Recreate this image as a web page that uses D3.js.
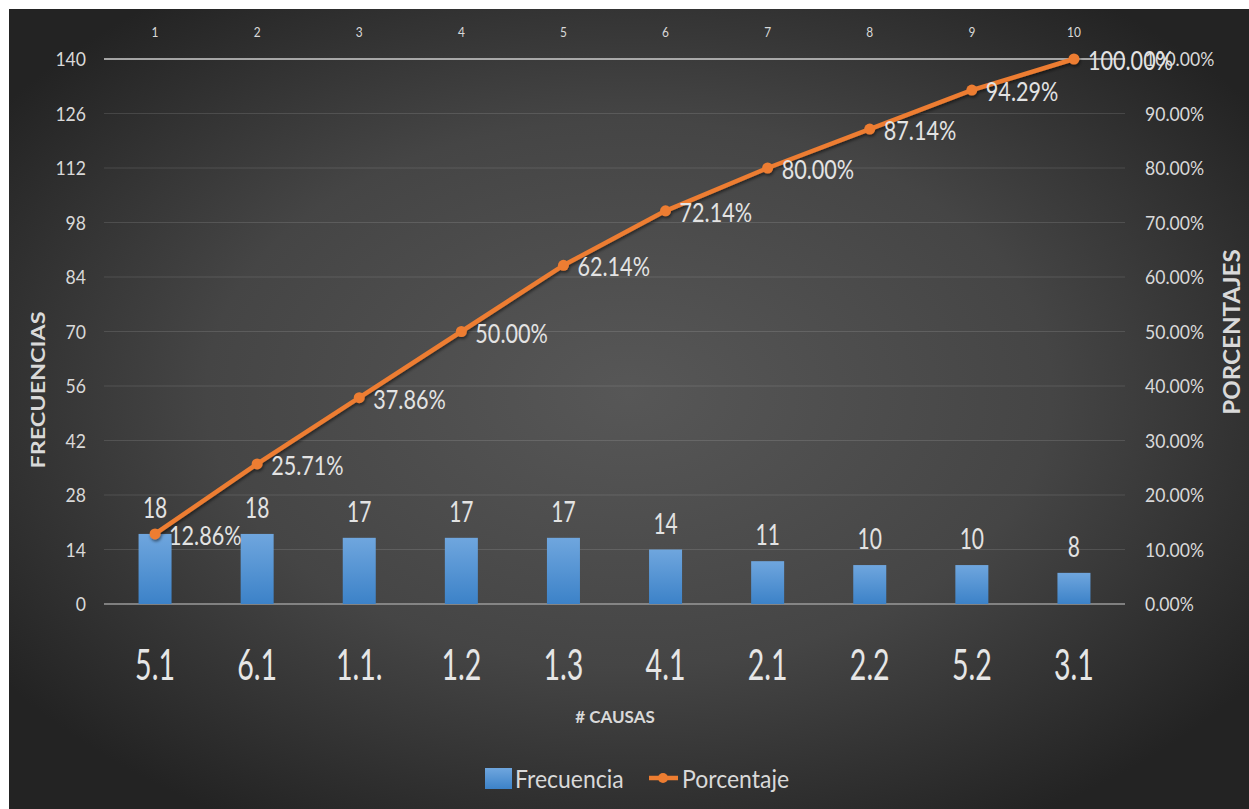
<!DOCTYPE html>
<html lang="es">
<head>
<meta charset="UTF-8">
<title>Pareto causas</title>
<script src="https://cdnjs.cloudflare.com/ajax/libs/d3/7.8.5/d3.min.js"></script>
<style>
  body { margin: 0; background: #fff; }
  text { font-family: Lato, "Open Sans", sans-serif; fill: #d9d9d9; }
</style>
</head>
<body>
<div id="chart"></div>
<script>
    // data
    var causas = ["5.1", "6.1", "1.1.", "1.2", "1.3", "4.1", "2.1", "2.2", "5.2", "3.1"];
    var frecuencia = [18, 18, 17, 17, 17, 14, 11, 10, 10, 8];
    var porcentaje = [12.86, 25.71, 37.86, 50.00, 62.14, 72.14, 80.00, 87.14, 94.29, 100.00];
    var topLabels = ["1", "2", "3", "4", "5", "6", "7", "8", "9", "10"];
    var leftTicks = [0, 14, 28, 42, 56, 70, 84, 98, 112, 126, 140];
    var rightTicks = [0, 0.1, 0.2, 0.3, 0.4, 0.5, 0.6, 0.7, 0.8, 0.9, 1.0];

    var width = 1249, height = 809;
    var orange = "#ed7d31";

    var svg = d3.select("#chart").append("svg")
        .attr("width", width)
        .attr("height", height);

    var defs = svg.append("defs");
    var bg = defs.append("radialGradient").attr("id", "bg")
        .attr("cx", "50%").attr("cy", "48%").attr("r", "62%");
    bg.append("stop").attr("offset", "0%").attr("stop-color", "#575757");
    bg.append("stop").attr("offset", "55%").attr("stop-color", "#454545");
    bg.append("stop").attr("offset", "100%").attr("stop-color", "#232323");

    var barGrad = defs.append("linearGradient").attr("id", "bar")
        .attr("x1", 0).attr("y1", 0).attr("x2", 0).attr("y2", 1);
    barGrad.append("stop").attr("offset", "0%").attr("stop-color", "#6fa6de");
    barGrad.append("stop").attr("offset", "100%").attr("stop-color", "#3c82c8");

    var shadow = defs.append("filter").attr("id", "shadow")
        .attr("x", "-10%").attr("y", "-10%").attr("width", "130%").attr("height", "130%");
    shadow.append("feDropShadow").attr("dx", 1).attr("dy", 2).attr("stdDeviation", 1.5)
        .attr("flood-color", "#000").attr("flood-opacity", 0.5);

    svg.append("rect")
        .attr("x", 9).attr("y", 9)
        .attr("width", width - 9).attr("height", height - 9)
        .attr("fill", "url(#bg)");

    var x = d3.scaleBand().domain(causas).range([104, 1125]);
    var yL = d3.scaleLinear().domain([0, 140]).range([604, 59]);
    var yR = d3.scaleLinear().domain([0, 1]).range([604, 59]);

    // small helper: text squeezed horizontally like the picture
    function txt(x0, y0, s, size, sx, anchor, weight) {
        return svg.append("text")
            .attr("transform", "translate(" + x0 + "," + y0 + ") scale(" + sx + ",1)")
            .attr("text-anchor", anchor || "middle")
            .style("font-size", size + "px")
            .style("font-weight", weight || "normal")
            .text(s);
    }

    // gridlines
    svg.append("g").selectAll("line")
        .data(leftTicks)
        .join("line")
        .attr("x1", 104).attr("x2", 1125)
        .attr("y1", function(d) { return yL(d); })
        .attr("y2", function(d) { return yL(d); })
        .attr("stroke", function(d) {
            if (d === 140) return "#cfcfcf";
            if (d === 0) return "#9a9a9a";
            return "rgba(255,255,255,0.12)";
        })
        .attr("stroke-width", function(d) { return (d === 140 || d === 0) ? 1.5 : 1; });

    // left axis labels
    leftTicks.forEach(function(d) {
        txt(86, yL(d) + 7, d, 20, 0.88, "end");
    });

    // right axis labels
    rightTicks.forEach(function(d) {
        txt(1145, yR(d) + 7, d3.format(".2%")(d), 20, 0.88, "start");
    });

    // top secondary category axis
    topLabels.forEach(function(d, i) {
        txt(x(causas[i]) + x.bandwidth() / 2, 37, d, 14, 0.85);
    });

    // bars
    var barW = 33;
    svg.append("g").selectAll("rect")
        .data(frecuencia)
        .join("rect")
        .attr("x", function(d, i) { return x(causas[i]) + x.bandwidth() / 2 - barW / 2; })
        .attr("y", function(d) { return yL(d); })
        .attr("width", barW)
        .attr("height", function(d) { return yL(0) - yL(d); })
        .attr("fill", "url(#bar)");

    frecuencia.forEach(function(d, i) {
        txt(x(causas[i]) + x.bandwidth() / 2, yL(d) - 16, d, 28, 0.75).style("fill", "#e3e3e3");
    });

    // category labels
    causas.forEach(function(d) {
        txt(x(d) + x.bandwidth() / 2, 680, d, 42, 0.68).style("fill", "#e6e6e6");
    });

    // cumulative line
    var line = d3.line()
        .x(function(d, i) { return x(causas[i]) + x.bandwidth() / 2; })
        .y(function(d) { return yR(d / 100); });

    var lineG = svg.append("g").attr("filter", "url(#shadow)");
    lineG.append("path")
        .datum(porcentaje)
        .attr("d", line)
        .attr("fill", "none")
        .attr("stroke", orange)
        .attr("stroke-width", 4.5)
        .attr("stroke-linejoin", "round");
    lineG.selectAll("circle")
        .data(porcentaje)
        .join("circle")
        .attr("cx", function(d, i) { return x(causas[i]) + x.bandwidth() / 2; })
        .attr("cy", function(d) { return yR(d / 100); })
        .attr("r", 5.5)
        .attr("fill", orange);

    porcentaje.forEach(function(d, i) {
        txt(x(causas[i]) + x.bandwidth() / 2 + 14, yR(d / 100) + 11, d.toFixed(2) + "%", 27, 0.8, "start")
            .style("fill", "#e3e3e3");
    });

    // axis titles
    txt(615, 723, "# CAUSAS", 17, 1, "middle", "bold");

    svg.append("text")
        .attr("transform", "translate(44.5,390) rotate(-90) scale(1.3,1)")
        .attr("text-anchor", "middle")
        .style("font-size", "18px")
        .style("font-weight", "bold")
        .text("FRECUENCIAS");

    svg.append("text")
        .attr("transform", "translate(1240,332) rotate(-90) scale(1.1,1)")
        .attr("text-anchor", "middle")
        .style("font-size", "22px")
        .style("font-weight", "bold")
        .text("PORCENTAJES");

    // legend
    svg.append("rect")
        .attr("x", 485).attr("y", 768)
        .attr("width", 27).attr("height", 21)
        .attr("fill", "url(#bar)");
    txt(515, 788, "Frecuencia", 25, 0.92, "start");

    svg.append("line")
        .attr("x1", 649).attr("x2", 678)
        .attr("y1", 778).attr("y2", 778)
        .attr("stroke", orange).attr("stroke-width", 4.5);
    svg.append("circle")
        .attr("cx", 663).attr("cy", 778).attr("r", 5)
        .attr("fill", orange);
    txt(682, 788, "Porcentaje", 25, 0.92, "start");
</script>
</body>
</html>
